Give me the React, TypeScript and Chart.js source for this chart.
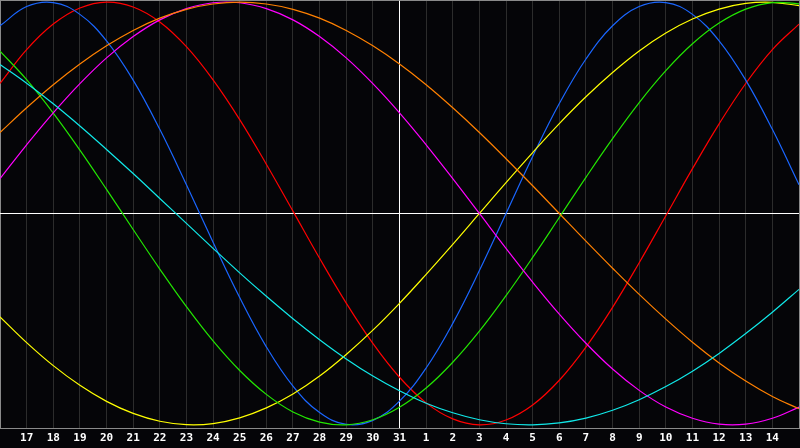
import { Chart, registerables } from 'chart.js';
import { useEffect, useRef } from 'react';

Chart.register(...registerables);

// one label per day, first and last sit on the frame and stay blank
const days = ['16', '17', '18', '19', '20', '21', '22', '23', '24', '25', '26', '27', '28', '29', '30', '31',
  '1', '2', '3', '4', '5', '6', '7', '8', '9', '10', '11', '12', '13', '14', '15'];

const physical = [0.888, 0.979, 0.998, 0.942, 0.817, 0.631, 0.398, 0.136, -0.136, -0.398, -0.631, -0.817, -0.942, -0.998, -0.979, -0.888, -0.731, -0.520, -0.270, 0, 0.270, 0.520, 0.731, 0.888, 0.979, 0.998, 0.942, 0.817, 0.631, 0.398, 0.136];
const emotional = [0.615, 0.775, 0.896, 0.972, 1.000, 0.977, 0.906, 0.789, 0.632, 0.444, 0.233, 0.011, -0.212, -0.424, -0.615, -0.775, -0.896, -0.972, -1.000, -0.977, -0.906, -0.789, -0.632, -0.444, -0.233, -0.011, 0.212, 0.424, 0.615, 0.775, 0.896];
const intellectual = [0.768, 0.633, 0.475, 0.300, 0.114, -0.076, -0.263, -0.441, -0.603, -0.743, -0.856, -0.939, -0.987, -1.000, -0.976, -0.917, -0.826, -0.704, -0.557, -0.389, -0.208, -0.019, 0.171, 0.354, 0.525, 0.676, 0.803, 0.901, 0.967, 0.998, 0.992];
const intuitive = [0.165, 0.325, 0.476, 0.614, 0.736, 0.837, 0.916, 0.969, 0.997, 0.997, 0.969, 0.916, 0.837, 0.736, 0.614, 0.476, 0.325, 0.165, 0, -0.165, -0.325, -0.476, -0.614, -0.736, -0.837, -0.916, -0.969, -0.997, -0.997, -0.969, -0.916];
const aesthetic = [-0.489, -0.611, -0.720, -0.813, -0.889, -0.946, -0.983, -0.999, -0.994, -0.967, -0.920, -0.854, -0.769, -0.667, -0.552, -0.425, -0.288, -0.146, 0, 0.146, 0.288, 0.425, 0.552, 0.667, 0.769, 0.854, 0.920, 0.967, 0.994, 0.999, 0.983];
const awareness = [0.383, 0.500, 0.609, 0.707, 0.793, 0.866, 0.924, 0.966, 0.991, 1.000, 0.991, 0.966, 0.924, 0.866, 0.793, 0.707, 0.609, 0.500, 0.383, 0.259, 0.131, 0, -0.131, -0.259, -0.383, -0.500, -0.609, -0.707, -0.793, -0.866, -0.924];
const spiritual = [0.705, 0.616, 0.519, 0.414, 0.303, 0.189, 0.071, -0.047, -0.165, -0.281, -0.392, -0.498, -0.597, -0.688, -0.769, -0.839, -0.898, -0.943, -0.976, -0.995, -1.000, -0.991, -0.968, -0.931, -0.881, -0.819, -0.746, -0.662, -0.568, -0.467, -0.359];

const todayIndex = 15;
const Y_MIN = -1.015;
const Y_MAX = 1.01;

// zero line and top edge of the frame, drawn under the curves
const framePlugin = {
  id: 'frame',
  beforeDatasetsDraw(chart: Chart) {
    const { ctx, chartArea, scales } = chart;
    const y0 = Math.round(scales.y.getPixelForValue(0)) + 0.5;
    ctx.save();
    ctx.lineWidth = 1;
    ctx.strokeStyle = '#ffffff';
    ctx.beginPath();
    ctx.moveTo(chartArea.left, y0);
    ctx.lineTo(chartArea.right, y0);
    ctx.stroke();
    ctx.strokeStyle = '#8a8a8a';
    ctx.beginPath();
    ctx.moveTo(chartArea.left, chartArea.top + 0.5);
    ctx.lineTo(chartArea.right, chartArea.top + 0.5);
    ctx.stroke();
    ctx.restore();
  }
};

export default function App() {
  const canvasRef = useRef<HTMLCanvasElement>(null);
  const chartRef = useRef<Chart | null>(null);

  useEffect(() => {
    document.body.style.margin = '0';
    if (!canvasRef.current) return;

    const line = (label: string, data: number[], color: string) => ({
      label,
      data,
      borderColor: color,
      borderWidth: 1.2,
      pointRadius: 0,
      tension: 0.4,
      fill: false
    });

    if (chartRef.current) chartRef.current.destroy();

    chartRef.current = new Chart(canvasRef.current, {
      type: 'line',
      data: {
        labels: days,
        datasets: [
          line('Spiritual', spiritual, '#10e8e8'),
          line('Awareness', awareness, '#ff8000'),
          line('Intuitive', intuitive, '#ff00ff'),
          line('Intellectual', intellectual, '#22e600'),
          line('Aesthetic', aesthetic, '#ffff00'),
          line('Physical', physical, '#1a66ff'),
          line('Emotional', emotional, '#ff0000')
        ]
      },
      plugins: [framePlugin],
      options: {
        animation: false,
        responsive: false,
        layout: { autoPadding: false, padding: { left: 0, right: 1, top: 0, bottom: 0 } },
        plugins: {
          legend: { display: false },
          tooltip: { enabled: false }
        },
        scales: {
          x: {
            offset: false,
            grid: {
              drawTicks: false,
              lineWidth: 1,
              color: (ctx) => {
                if (ctx.index === todayIndex) return '#ffffff';
                if (ctx.index === 0 || ctx.index === days.length - 1) return '#8a8a8a';
                return '#2c2c2c';
              }
            },
            border: { display: true, color: '#8a8a8a' },
            ticks: {
              autoSkip: false,
              maxRotation: 0,
              padding: 0,
              color: '#ffffff',
              font: { family: 'DejaVu Sans Mono', weight: 'bold', size: 11, lineHeight: '20px' },
              callback: (_v, i) => (i === 0 || i === days.length - 1 ? '' : days[i])
            }
          },
          y: {
            display: false,
            min: Y_MIN,
            max: Y_MAX
          }
        }
      }
    });

    return () => {
      if (chartRef.current) {
        chartRef.current.destroy();
        chartRef.current = null;
      }
    };
  }, []);

  return (
    <div style={{ width: 800, height: 448, background: '#050508' }}>
      <canvas ref={canvasRef} width={800} height={448} style={{ display: 'block', background: '#050508' }} />
    </div>
  );
}
